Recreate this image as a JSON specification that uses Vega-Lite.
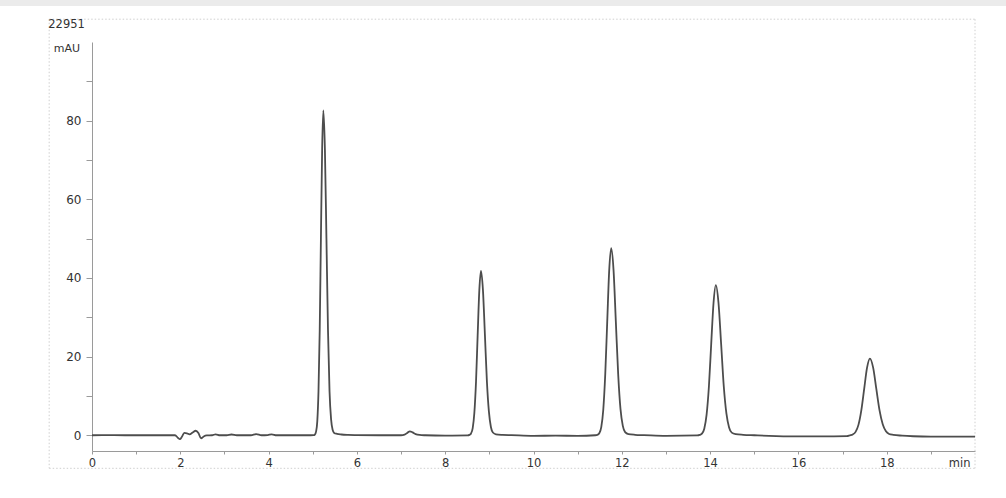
{
  "$schema": "https://vega.github.io/schema/vega-lite/v6.json",
  "autosize": "none",
  "width": 883,
  "height": 409,
  "padding": {"left": 92, "top": 42, "right": 31, "bottom": 47},
  "background": "white",
  "config": {
    "view": {"stroke": null},
    "axis": {
      "labelFont": "DejaVu Sans",
      "titleFont": "DejaVu Sans",
      "labelColor": "#333",
      "titleColor": "#333",
      "domainColor": "#9a9a9a",
      "tickColor": "#9a9a9a",
      "grid": false
    }
  },
  "datasets": {
    "band": [
      {"x": -2.2, "x2": 20.8, "y": 109.16, "y2": 111}
    ],
    "frame": [
      {"x": -0.97, "x2": 20, "y": 105.8, "y2": 105.8},
      {"x": -0.97, "x2": -0.97, "y": 105.8, "y2": -8.4},
      {"x": -0.97, "x2": 20, "y": -8.4, "y2": -8.4},
      {"x": 20, "x2": 20, "y": 105.8, "y2": -8.4}
    ],
    "notes": [
      {"x": -0.99, "y": 104.3, "label": "22951"}
    ],
    "signal": [
      {"x": 0, "y": 0}, {"x": 0.5, "y": 0.02}, {"x": 1, "y": 0}, {"x": 1.5, "y": 0},
      {"x": 1.88, "y": 0}, {"x": 1.95, "y": -0.7}, {"x": 1.99, "y": -1.0}, {"x": 2.04, "y": -0.3},
      {"x": 2.09, "y": 0.6}, {"x": 2.15, "y": 0.5}, {"x": 2.21, "y": 0.25}, {"x": 2.28, "y": 0.7},
      {"x": 2.35, "y": 1.15}, {"x": 2.41, "y": 0.6}, {"x": 2.47, "y": -0.8}, {"x": 2.53, "y": -0.3},
      {"x": 2.6, "y": -0.05}, {"x": 2.72, "y": 0}, {"x": 2.8, "y": 0.25}, {"x": 2.9, "y": 0},
      {"x": 3.05, "y": 0}, {"x": 3.16, "y": 0.2}, {"x": 3.28, "y": 0}, {"x": 3.6, "y": 0},
      {"x": 3.72, "y": 0.3}, {"x": 3.84, "y": 0}, {"x": 3.98, "y": 0.05}, {"x": 4.07, "y": 0.25},
      {"x": 4.18, "y": 0}, {"x": 4.6, "y": 0}, {"x": 4.95, "y": 0},
      {"x": 5.02, "y": 0.02}, {"x": 5.048, "y": 0.18}, {"x": 5.075, "y": 0.92}, {"x": 5.103, "y": 3.6},
      {"x": 5.13, "y": 11.2}, {"x": 5.158, "y": 26.8}, {"x": 5.185, "y": 50.1}, {"x": 5.213, "y": 72.9},
      {"x": 5.24, "y": 82.6}, {"x": 5.275, "y": 72.9}, {"x": 5.31, "y": 50.1}, {"x": 5.345, "y": 26.8},
      {"x": 5.38, "y": 11.2}, {"x": 5.415, "y": 4.1}, {"x": 5.45, "y": 1.4}, {"x": 5.485, "y": 0.6},
      {"x": 5.55, "y": 0.35}, {"x": 5.65, "y": 0.2}, {"x": 5.8, "y": 0.1}, {"x": 6.0, "y": 0.05},
      {"x": 6.5, "y": 0}, {"x": 7.0, "y": 0}, {"x": 7.08, "y": 0.15}, {"x": 7.14, "y": 0.6},
      {"x": 7.2, "y": 1.0}, {"x": 7.26, "y": 0.75}, {"x": 7.33, "y": 0.3}, {"x": 7.42, "y": 0.08},
      {"x": 7.55, "y": 0}, {"x": 8.0, "y": -0.1}, {"x": 8.51, "y": -0.05},
      {"x": 8.548, "y": 0.1}, {"x": 8.585, "y": 0.46}, {"x": 8.623, "y": 1.83}, {"x": 8.66, "y": 5.66},
      {"x": 8.698, "y": 13.6}, {"x": 8.735, "y": 25.4}, {"x": 8.773, "y": 36.9}, {"x": 8.81, "y": 41.8},
      {"x": 8.855, "y": 36.9}, {"x": 8.9, "y": 25.4}, {"x": 8.945, "y": 13.6}, {"x": 8.99, "y": 6.0},
      {"x": 9.035, "y": 2.1}, {"x": 9.08, "y": 0.7}, {"x": 9.15, "y": 0.25}, {"x": 9.3, "y": 0.1},
      {"x": 9.5, "y": 0.03}, {"x": 10, "y": -0.15}, {"x": 10.5, "y": -0.1}, {"x": 11, "y": -0.15},
      {"x": 11.4, "y": 0},
      {"x": 11.445, "y": 0.1}, {"x": 11.49, "y": 0.53}, {"x": 11.535, "y": 2.09}, {"x": 11.58, "y": 6.44},
      {"x": 11.625, "y": 15.5}, {"x": 11.67, "y": 28.9}, {"x": 11.715, "y": 42.0}, {"x": 11.76, "y": 47.6},
      {"x": 11.813, "y": 42.0}, {"x": 11.865, "y": 28.9}, {"x": 11.918, "y": 15.5}, {"x": 11.97, "y": 6.7},
      {"x": 12.023, "y": 2.4}, {"x": 12.075, "y": 0.8}, {"x": 12.15, "y": 0.3}, {"x": 12.3, "y": 0.12},
      {"x": 12.5, "y": 0.04}, {"x": 13, "y": -0.15}, {"x": 13.71, "y": -0.05},
      {"x": 13.763, "y": 0.08}, {"x": 13.815, "y": 0.42}, {"x": 13.868, "y": 1.68}, {"x": 13.92, "y": 5.17},
      {"x": 13.973, "y": 12.4}, {"x": 14.025, "y": 23.2}, {"x": 14.078, "y": 33.7}, {"x": 14.13, "y": 38.2},
      {"x": 14.19, "y": 33.7}, {"x": 14.25, "y": 23.2}, {"x": 14.31, "y": 12.4}, {"x": 14.37, "y": 5.5},
      {"x": 14.43, "y": 2.0}, {"x": 14.49, "y": 0.67}, {"x": 14.58, "y": 0.3}, {"x": 14.75, "y": 0.12},
      {"x": 15.0, "y": 0.0}, {"x": 15.5, "y": -0.2}, {"x": 16, "y": -0.3}, {"x": 16.5, "y": -0.3},
      {"x": 17.1, "y": -0.2},
      {"x": 17.165, "y": 0.0}, {"x": 17.23, "y": 0.21}, {"x": 17.295, "y": 0.86}, {"x": 17.36, "y": 2.64},
      {"x": 17.425, "y": 6.33}, {"x": 17.49, "y": 11.8}, {"x": 17.555, "y": 17.2}, {"x": 17.62, "y": 19.5},
      {"x": 17.693, "y": 17.2}, {"x": 17.765, "y": 11.8}, {"x": 17.838, "y": 6.33}, {"x": 17.91, "y": 2.8},
      {"x": 17.983, "y": 1.0}, {"x": 18.055, "y": 0.33}, {"x": 18.15, "y": 0.1}, {"x": 18.35, "y": -0.1},
      {"x": 18.6, "y": -0.25}, {"x": 19, "y": -0.35}, {"x": 19.5, "y": -0.35}, {"x": 20, "y": -0.35}
    ]
  },
  "encoding": {
    "x": {
      "field": "x",
      "type": "quantitative",
      "scale": {"domain": [0, 20], "nice": false, "zero": false},
      "axis": {
        "values": [0, 1, 2, 3, 4, 5, 6, 7, 8, 9, 10, 11, 12, 13, 14, 15, 16, 17, 18, 19],
        "labelExpr": "datum.value % 2 == 0 ? datum.label : ''",
        "labelFontSize": 11.5,
        "labelFlush": false,
        "labelPadding": 3,
        "tickSize": 3,
        "title": "min",
        "titleFontSize": 11.5,
        "titleFontWeight": "normal",
        "titleX": 878,
        "titleY": 12,
        "titleAlign": "right",
        "titleBaseline": "middle"
      }
    },
    "y": {
      "field": "y",
      "type": "quantitative",
      "scale": {"domain": [-4, 100], "nice": false, "zero": false},
      "axis": {
        "values": [0, 10, 20, 30, 40, 50, 60, 70, 80, 90],
        "labelExpr": "datum.value % 20 == 0 ? datum.label : ''",
        "labelFontSize": 12,
        "labelPadding": 5,
        "tickSize": 6,
        "title": "mAU",
        "titleAngle": 0,
        "titleFontSize": 11,
        "titleFontWeight": "normal",
        "titleX": -25.5,
        "titleY": 6,
        "titleAlign": "center",
        "titleBaseline": "middle"
      }
    }
  },
  "layer": [
    {
      "data": {"name": "band"},
      "mark": {"type": "rect", "color": "#ebebeb", "clip": false},
      "encoding": {"x2": {"field": "x2"}, "y2": {"field": "y2"}}
    },
    {
      "data": {"name": "frame"},
      "mark": {"type": "rule", "color": "#cfcfcf", "strokeWidth": 1, "strokeDash": [1.5, 2], "clip": false},
      "encoding": {"x2": {"field": "x2"}, "y2": {"field": "y2"}}
    },
    {
      "data": {"name": "notes"},
      "mark": {"type": "text", "align": "left", "baseline": "middle", "font": "DejaVu Sans", "fontSize": 11.5, "color": "#333", "clip": false},
      "encoding": {"text": {"field": "label"}}
    },
    {
      "data": {"name": "signal"},
      "mark": {"type": "line", "color": "#4d4d4d", "strokeWidth": 1.8, "interpolate": "monotone"}
    }
  ]
}
